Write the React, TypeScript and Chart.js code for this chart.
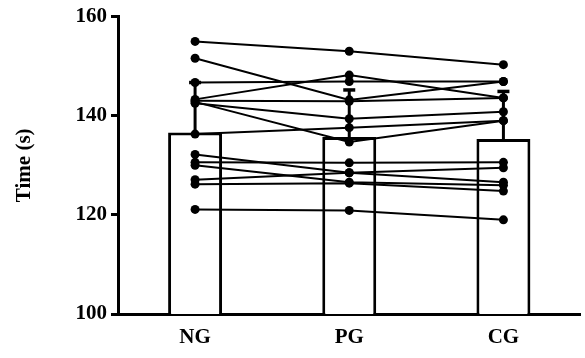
import React, { useEffect, useRef } from "react";
import { Chart, registerables } from "chart.js";

Chart.register(...registerables);

// ---- data ----
const categories = ["NG", "PG", "CG"];
const meanValues = [136.6, 135.7, 135.3];
const sdValues = [10.1, 9.5, 9.6];
const yTicks = [100, 120, 140, 160];
const yTitle = "Time (s)";

// individual subjects: [NG, PG, CG]
const subject01 = [155.0, 153.0, 150.3];
const subject02 = [151.6, 143.2, 146.9];
const subject03 = [146.7, 146.9, 146.9];
const subject04 = [143.3, 148.2, 143.6];
const subject05 = [143.0, 142.9, 143.6];
const subject06 = [142.5, 139.4, 140.8];
const subject07 = [142.8, 134.7, 139.0];
const subject08 = [136.3, 137.6, 139.0];
const subject09 = [132.2, 128.5, 129.5];
const subject10 = [130.6, 130.5, 130.6];
const subject11 = [130.0, 126.6, 126.0];
const subject12 = [127.1, 128.5, 126.6];
const subject13 = [126.2, 126.4, 124.8];
const subject14 = [121.1, 120.9, 119.0];

const subjects = [
  subject01, subject02, subject03, subject04, subject05, subject06, subject07,
  subject08, subject09, subject10, subject11, subject12, subject13, subject14,
];

const FONT = "'Liberation Serif', 'Times New Roman', serif";
const FONT_SIZE = 21;

const errorBarPlugin = {
  id: "errorBars",
  afterDatasetDraw(chart: any, args: any) {
    if (args.index !== 0) return;
    const ctx = chart.ctx;
    const meta = chart.getDatasetMeta(0);
    const y = chart.scales.y;
    ctx.save();
    ctx.strokeStyle = "#000";
    meta.data.forEach((bar: any, i: number) => {
      const x = bar.x;
      const yTop = y.getPixelForValue(meanValues[i] + sdValues[i]);
      const yMean = y.getPixelForValue(meanValues[i]);
      ctx.lineWidth = 3;
      ctx.beginPath();
      ctx.moveTo(x, yMean);
      ctx.lineTo(x, yTop);
      ctx.stroke();
      ctx.lineWidth = 3.5;
      ctx.beginPath();
      ctx.moveTo(x - 6, yTop);
      ctx.lineTo(x + 6, yTop);
      ctx.stroke();
    });
    ctx.restore();
  },
};

export default function App() {
  const ref = useRef<HTMLCanvasElement | null>(null);

  useEffect(() => {
    if (!ref.current) return;
    const lineSets = subjects.map((s, i) => ({
      type: "line" as const,
      label: `S${i + 1}`,
      data: s,
      borderColor: "#000",
      backgroundColor: "#000",
      borderWidth: 2,
      pointRadius: 4.5,
      pointBorderWidth: 0,
      pointBackgroundColor: "#000",
      fill: false,
      tension: 0,
      order: 1,
    }));
    const chart = new Chart(ref.current, {
      type: "bar",
      data: {
        labels: categories,
        datasets: [
          {
            type: "bar" as const,
            label: "Mean",
            data: meanValues,
            backgroundColor: "#fff",
            borderColor: "#000",
            borderWidth: 3,
            categoryPercentage: 1,
            barPercentage: 0.35,
            order: 2,
          },
          ...lineSets,
        ] as any,
      },
      plugins: [errorBarPlugin],
      options: {
        responsive: false,
        animation: false,
        events: [],
        layout: { padding: { top: 16, right: 0, bottom: 0, left: 0 } },
        plugins: {
          legend: { display: false },
          tooltip: { enabled: false },
          title: { display: false },
        },
        scales: {
          x: {
            afterFit: (axis: any) => {
              axis.height = 44;
            },
            grid: { display: false, drawTicks: false },
            border: { display: true, color: "#000", width: 3 },
            ticks: {
              color: "#000",
              padding: 11,
              font: { family: FONT, size: FONT_SIZE, weight: "bold" },
            },
          },
          y: {
            min: 100,
            max: 160,
            afterFit: (axis: any) => {
              axis.width = 118;
            },
            afterBuildTicks: (axis: any) => {
              axis.ticks = yTicks.map((v) => ({ value: v }));
            },
            grid: {
              drawOnChartArea: false,
              drawTicks: true,
              tickLength: 7,
              tickWidth: 3,
              tickColor: "#000",
              color: "#000",
            },
            border: { display: true, color: "#000", width: 3 },
            ticks: {
              color: "#000",
              padding: 4,
              font: { family: FONT, size: FONT_SIZE, weight: "bold" },
            },
            title: {
              display: true,
              text: yTitle,
              color: "#000",
              padding: { top: 12, bottom: 0 },
              font: { family: FONT, size: FONT_SIZE, weight: "bold" },
            },
          },
        },
      } as any,
    });
    return () => chart.destroy();
  }, []);

  return (
    <div style={{ position: "fixed", left: 0, top: 0, width: 585, height: 358, background: "#fff" }}>
      <canvas ref={ref} width={585} height={358} style={{ display: "block" }} />
    </div>
  );
}
